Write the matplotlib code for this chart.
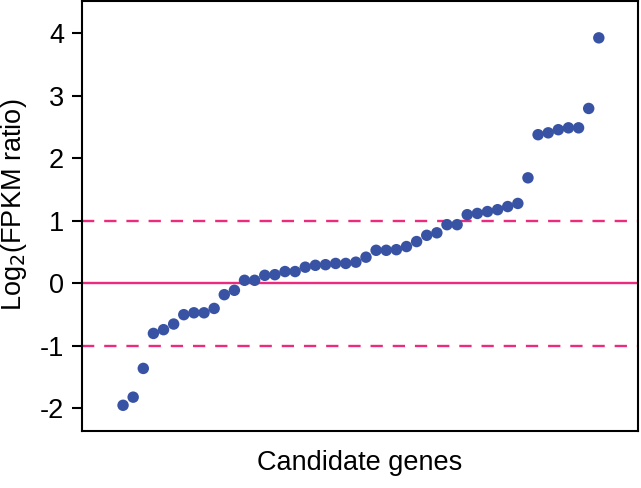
#!/usr/bin/env python3

import matplotlib
matplotlib.use("Agg")
import matplotlib.pyplot as plt
import numpy as np

plt.rcParams['font.family'] = ['Liberation Sans', 'DejaVu Sans']

# Log2 FPKM ratio for each candidate gene, sorted
ratios = [-1.95, -1.82, -1.36, -0.80, -0.74, -0.65, -0.50, -0.47, -0.47, -0.40,
          -0.18, -0.11, 0.05, 0.05, 0.13, 0.14, 0.19, 0.19, 0.26, 0.29,
          0.30, 0.32, 0.32, 0.34, 0.42, 0.53, 0.53, 0.54, 0.59, 0.67,
          0.77, 0.81, 0.94, 0.94, 1.10, 1.12, 1.15, 1.18, 1.23, 1.28,
          1.69, 2.38, 2.41, 2.46, 2.49, 2.49, 2.80, 3.93]
yticks = [-2, -1, 0, 1, 2, 3, 4]
cutoffs = [-1, 1]

genes = np.arange(1, len(ratios) + 1)

fig = plt.figure(figsize=(6.41, 4.88), dpi=100)
ax = fig.add_axes([0.128, 0.117, 0.867, 0.881])

pink = '#ec2a7e'
ax.axhline(0, color=pink, lw=1.7, zorder=1)
for c in cutoffs:
    ax.axhline(c, color=pink, lw=1.7, dashes=(5.2, 4.2), zorder=1)

ax.scatter(genes, ratios, s=68, color='#3953a4', edgecolors='none', zorder=3)

ax.set_xlim(-3.05, 51.85)
ax.set_ylim(-2.36, 4.52)
ax.set_yticks(yticks)
ax.set_yticklabels([str(t) for t in yticks])
ax.set_xticks([])

for s in ax.spines.values():
    s.set_linewidth(1.5)
ax.tick_params(axis='y', length=7, width=1.5, labelsize=19.5, pad=6)

ax.set_ylabel('Log$_2$(FPKM ratio)', fontsize=19.5)
ax.yaxis.set_label_coords(-0.095, 0.525)
ax.set_xlabel('Candidate genes', fontsize=19.5, labelpad=14)

fig.savefig('out.png', dpi=100)
